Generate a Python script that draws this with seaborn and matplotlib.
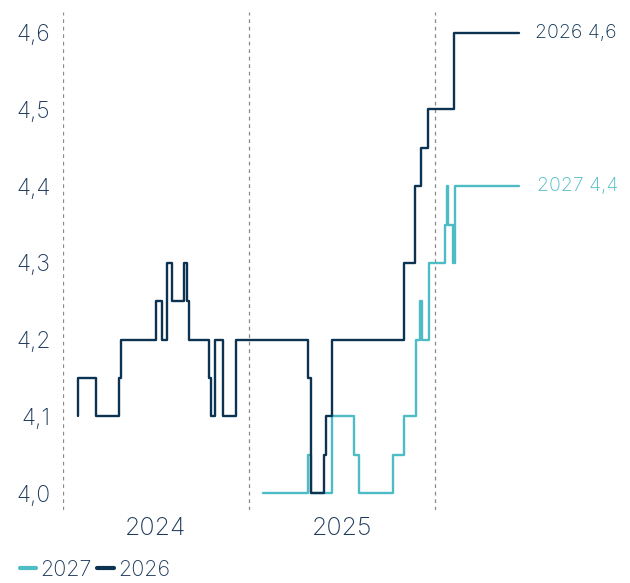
import pandas as pd
import matplotlib
matplotlib.use("Agg")
import matplotlib.pyplot as plt
import seaborn as sns

# Step change points (date, new value)
dates_2026 = ["2024-01-30", "2024-01-31", "2024-03-06", "2024-04-20", "2024-04-23",
              "2024-07-01", "2024-07-14", "2024-07-23", "2024-08-02", "2024-08-25",
              "2024-09-01", "2024-09-04", "2024-10-13", "2024-10-17", "2024-10-26",
              "2024-11-10", "2024-12-06", "2025-04-26", "2025-05-02", "2025-05-28",
              "2025-06-01", "2025-06-13", "2025-10-31", "2025-11-22", "2025-12-05",
              "2025-12-19", "2026-02-08", "2026-06-14"]
values_2026 = [4.10, 4.15, 4.10, 4.15, 4.20,
               4.25, 4.20, 4.30, 4.25, 4.30,
               4.25, 4.20, 4.15, 4.10, 4.20,
               4.10, 4.20, 4.15, 4.00, 4.05,
               4.10, 4.20, 4.30, 4.40, 4.45,
               4.50, 4.60, 4.60]

dates_2027 = ["2025-01-27", "2025-04-26", "2025-05-02", "2025-06-13", "2025-07-26",
              "2025-08-04", "2025-10-11", "2025-10-31", "2025-11-24", "2025-12-02",
              "2025-12-06", "2025-12-20", "2026-01-21", "2026-01-24", "2026-01-26",
              "2026-02-06", "2026-02-09", "2026-06-14"]
values_2027 = [4.00, 4.05, 4.00, 4.10, 4.05,
               4.00, 4.05, 4.10, 4.20, 4.25,
               4.20, 4.30, 4.35, 4.40, 4.35,
               4.30, 4.40, 4.40]

year_starts = ["2024-01-01", "2025-01-01", "2026-01-01"]
year_mids = ["2024-07-01", "2025-07-02"]
year_labels = ["2024", "2025"]
yticks = [4.0, 4.1, 4.2, 4.3, 4.4, 4.5, 4.6]

navy = "#0c3352"
teal = "#4dbcc5"
text_col = "#1f3a5c"

df = pd.concat([
    pd.DataFrame({"date": pd.to_datetime(dates_2027), "value": values_2027, "series": "2027"}),
    pd.DataFrame({"date": pd.to_datetime(dates_2026), "value": values_2026, "series": "2026"}),
])

sns.set_style("white")
plt.rcParams['font.family'] = ['Inter', 'DejaVu Sans']
plt.rcParams['font.weight'] = 'light'

fig = plt.figure(figsize=(6.3, 5.83), dpi=100)
ax = fig.add_axes([63 / 630, 73 / 583, 567 / 630, 498 / 583])

for d in year_starts:
    ax.axvline(pd.Timestamp(d), color="#8a8a8a", lw=0.9, ls=(0, (3, 3)), zorder=0)

sns.lineplot(data=df, x="date", y="value", hue="series", hue_order=["2027", "2026"],
             palette={"2027": teal, "2026": navy}, estimator=None, sort=True,
             drawstyle="steps-post", linewidth=1.7, ax=ax)

ax.set_xlim(pd.Timestamp("2024-01-01"), pd.Timestamp("2024-01-01") + pd.Timedelta(days=1114))
ax.set_ylim(3.978, 4.627)
ax.set_yticks(yticks)
ax.set_yticklabels([f"{v:.1f}".replace(".", ",") for v in yticks])
ax.set_xticks(pd.to_datetime(year_mids))
ax.set_xticklabels(year_labels)
ax.tick_params(axis="y", length=0, pad=9, labelsize=16.5, labelcolor=text_col)
ax.tick_params(axis="x", length=0, pad=5, labelsize=18, labelcolor=text_col)
ax.set_xlabel("")
ax.set_ylabel("")
for s in ax.spines.values():
    s.set_visible(False)

# end labels
ax.annotate("2026 4,6", (pd.Timestamp(dates_2026[-1]), values_2026[-1]), xytext=(12, 0),
            textcoords="offset points", va="center", ha="left", color=navy, fontsize=14,
            annotation_clip=False)
ax.annotate("2027 4,4", (pd.Timestamp(dates_2027[-1]), values_2027[-1]), xytext=(13, 0),
            textcoords="offset points", va="center", ha="left", color=teal, fontsize=14,
            annotation_clip=False)

handles, labels = ax.get_legend_handles_labels()
for h in handles:
    h.set_linewidth(3)
ax.legend(handles, labels, loc="lower left", bbox_to_anchor=(0.032, 0.006),
          bbox_transform=fig.transFigure, ncol=2, frameon=False, fontsize=15.5,
          handlelength=0.75, handletextpad=0.2, columnspacing=0.25, borderpad=0.0,
          borderaxespad=0.0, labelcolor=text_col)

fig.savefig("out.png", dpi=100)
